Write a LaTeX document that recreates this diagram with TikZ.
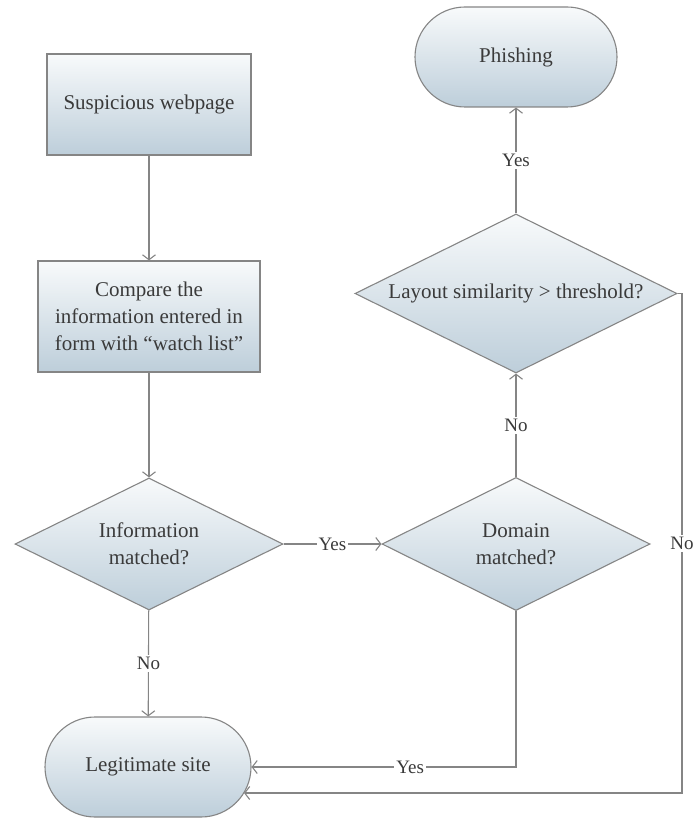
\documentclass[tikz,border=0pt]{standalone}
\usepackage{fontspec}
\setmainfont{Liberation Serif}
\usetikzlibrary{shapes.geometric,arrows.meta}
\definecolor{edgec}{HTML}{858585}
\definecolor{txtc}{HTML}{3A3A3A}
\definecolor{topc}{HTML}{F8FAFB}
\definecolor{botc}{HTML}{BDCEDA}
\begin{document}
\begin{tikzpicture}[x=1pt,y=-1pt,
  font=\fontsize{21}{27}\selectfont, text=txtc,
  box/.style={draw=edgec, line width=1.1pt, top color=topc, bottom color=botc,
    rectangle, align=center, inner sep=0pt},
  term/.style={box, rounded corners=50pt},
  dec/.style={draw=edgec, line width=1.1pt, top color=topc, bottom color=botc,
    diamond, aspect=2, align=center, inner sep=0pt},
  conn/.style={draw=edgec, line width=1.1pt, -{Straight Barb[length=5pt,width=13pt]}},
  lbl/.style={fill=white, inner sep=2pt, font=\fontsize{19}{23}\selectfont}]
\useasboundingbox (0,0) rectangle (693,818);
\node[box, minimum width=204pt, minimum height=101pt] (susp) at (149,104.5) {Suspicious webpage};
\node[box, minimum width=222pt, minimum height=111pt] (cmp) at (149,316.5) {Compare the\\information entered in\\form with “watch list”};
\node[dec, minimum width=268pt, minimum height=132pt] (info) at (149,544) {Information\\matched?};
\node[dec, minimum width=268pt, minimum height=133pt] (domain) at (516,544) {Domain\\matched?};
\node[dec, minimum width=322pt, minimum height=159pt] (layout) at (516,293.5) {Layout similarity > threshold?};
\node[term, minimum width=202pt, minimum height=100pt] (phish) at (516,57) {Phishing};
\node[term, minimum width=206pt, minimum height=100pt] (legit) at (148,767) {Legitimate site};
\coordinate (r1) at (682,293.5);
\coordinate (r2) at (682,793);
\coordinate (r3) at (244,793);
\draw[conn] (susp) -- (cmp);
\draw[conn] (cmp) -- (info);
\draw[conn] (info) -- node[lbl] {Yes} (domain);
\draw[conn] (info) -- node[lbl] {No} (legit);
\draw[conn] (domain) -- node[lbl] {No} (layout);
\draw[conn] (layout) -- node[lbl] {Yes} (phish);
\draw[conn] (domain.south) |- node[lbl, pos=0.70] {Yes} (legit.east);
\draw[conn] (layout.east) -- (r1) -- node[lbl] {No} (r2) -- (r3);
\end{tikzpicture}
\end{document}
